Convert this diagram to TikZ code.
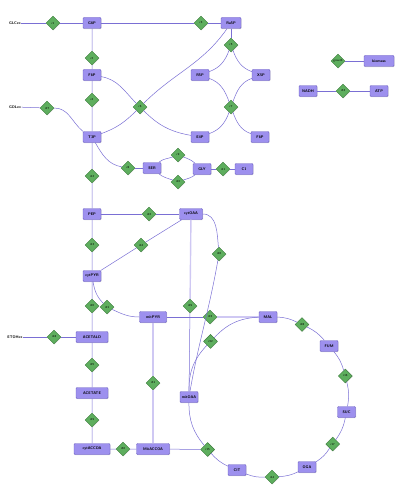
\documentclass[tikz,border=0pt]{standalone}
\usetikzlibrary{shapes.geometric,shadows}
\definecolor{boxfill}{HTML}{9D90EE}
\definecolor{boxdraw}{HTML}{6B5FC2}
\definecolor{dfill}{HTML}{5EAE5E}
\definecolor{ddraw}{HTML}{3D7D3D}
\definecolor{edge}{HTML}{7A6FD4}
\definecolor{edgelight}{HTML}{CFC8F3}
\begin{document}
\begin{tikzpicture}[x=1pt,y=1pt,
 met/.style={draw=boxdraw, fill=boxfill, rounded corners=1pt, minimum width=18pt, minimum height=11pt, inner sep=0pt, font=\fontsize{3.8}{4}\selectfont\sffamily\bfseries, line width=0.4pt, drop shadow={shadow xshift=0.5pt, shadow yshift=-0.6pt, fill=black!30}},
 rxn/.style={diamond, aspect=1, draw=ddraw, fill=dfill, minimum width=14pt, minimum height=14pt, inner sep=0pt, font=\fontsize{3}{3.5}\selectfont\sffamily, line width=0.4pt, drop shadow={shadow xshift=0.4pt, shadow yshift=-0.5pt, fill=black!25}},
 ext/.style={font=\fontsize{3.8}{4}\selectfont\sffamily\bfseries, inner sep=0.5pt},
 ln/.style={draw=edge, line width=0.5pt},
 lt/.style={draw=edgelight, line width=1.4pt}]
\useasboundingbox (0,0) rectangle (400,-495);
% external
\node[ext] (GLCex) at (15,-23) {GLCex};
\node[ext] (GOLex) at (15,-107) {GOLex};
\node[ext] (ETOHex) at (15,-337) {ETOHex};
% metabolites
\node[met] (G6P) at (92,-23) {G6P};
\node[met, minimum width=20pt] (Ru5P) at (231,-23) {Ru5P};
\node[met] (F6P) at (92,-75) {F6P};
\node[met] (R5P) at (200,-75) {R5P};
\node[met] (X5P) at (261,-75) {X5P};
\node[met] (T3P) at (92,-137) {T3P};
\node[met] (E4P) at (200,-137) {E4P};
\node[met] (F6Pb) at (260,-137) {F6P};
\node[met] (SER) at (152,-168) {SER};
\node[met] (GLY) at (202,-169) {GLY};
\node[met] (C1) at (244,-169) {C1};
\node[met] (PEP) at (92,-214) {PEP};
\node[met, minimum width=23pt] (cytOAA) at (191,-214) {cytOAA};
\node[met] (cytPYR) at (92,-276) {cytPYR};
\node[met, minimum width=27pt] (mitPYR) at (153,-317) {mitPYR};
\node[met, minimum width=32pt] (ACETALD) at (92,-337) {ACETALD};
\node[met, minimum width=32pt] (ACETATE) at (92,-393) {ACETATE};
\node[met, minimum width=36pt] (cytACCOA) at (92,-449) {cytACCOA};
\node[met, minimum width=33pt] (MitACCOA) at (153,-449) {MitACCOA};
\node[met] (mitOAA) at (189,-397) {mitOAA};
\node[met] (MAL) at (268,-317) {MAL};
\node[met] (FUM) at (329,-346) {FUM};
\node[met] (SUC) at (346.5,-412) {SUC};
\node[met] (OGA) at (307,-467) {OGA};
\node[met] (CIT) at (237,-470) {CIT};
\node[met, minimum width=30pt] (biomass) at (379,-61) {biomass};
\node[met] (NADH) at (308,-91) {NADH};
\node[met] (ATP) at (379,-91) {ATP};
% reactions
\node[rxn] (r1) at (53,-23) {r1};
\node[rxn] (r3) at (201,-23) {r3};
\node[rxn] (r2) at (92,-58) {r2};
\node[rxn] (r4) at (92,-100) {r4};
\node[rxn] (r6) at (140,-107) {r6};
\node[rxn] (r27) at (47,-108) {r27};
\node[rxn] (r5) at (231,-45) {r5};
\node[rxn] (r7) at (231,-107) {r7};
\node[rxn] (r8) at (128,-168) {r8};
\node[rxn] (r9) at (178,-155) {r9};
\node[rxn] (r10) at (178,-182) {r10};
\node[rxn] (r11) at (223,-169) {r11};
\node[rxn] (r12) at (92,-176) {r12};
\node[rxn] (r22) at (149,-214) {r22};
\node[rxn] (r13) at (92,-245) {r13};
\node[rxn] (r24) at (141,-245) {r24};
\node[rxn] (r26) at (219,-254) {r26};
\node[rxn] (r29) at (190,-306) {r29};
\node[rxn] (r20) at (92,-306) {r20};
\node[rxn] (r21) at (107,-307) {r21};
\node[rxn] (r23) at (210,-317) {r23};
\node[rxn] (r18) at (54,-337) {r18};
\node[rxn] (r25) at (92,-365) {r25};
\node[rxn] (r31) at (153,-383) {r31};
\node[rxn] (r19) at (92,-420) {r19};
\node[rxn] (r30) at (123,-449) {r30};
\node[rxn] (r15) at (207.6,-449.5) {r15};
\node[rxn] (r14) at (272,-477) {r14};
\node[rxn] (r17) at (332.7,-444) {r17};
\node[rxn] (r16) at (345.3,-376) {r16};
\node[rxn] (r28) at (302,-324.5) {r28};
\node[rxn] (r32) at (210.5,-341.4) {r32};
\node[rxn] (growth) at (338,-61) {growth};
\node[rxn] (r33) at (343,-91) {r33};
% straight connectors
\draw[ln] (GLCex) -- (r1) -- (G6P) -- (r3) -- (Ru5P);
\draw[ln] (G6P) -- (r2) -- (F6P) -- (r4) -- (T3P) -- (r12) -- (PEP) -- (r13) -- (cytPYR) -- (r20) -- (ACETALD) -- (r25) -- (ACETATE) -- (r19) -- (cytACCOA) -- (r30) -- (MitACCOA) -- (r15);
\draw[ln] (Ru5P) -- (r5);
\draw[ln] (GOLex) -- (r27);
\draw[ln] (r8) -- (SER);
\draw[ln] (GLY) -- (r11) -- (C1);
\draw[ln] (PEP) -- (r22) -- (cytOAA);
\draw[ln] (cytPYR) -- (r24) -- (cytOAA);
\draw[ln] (ETOHex) -- (r18) -- (ACETALD);
\draw[lt] (cytOAA) -- (r29);
\draw[ln] (r29) -- (mitOAA);
\draw[ln] (mitPYR) -- (r23);
\draw[lt] (r23) -- (MAL);
\draw[lt] (mitPYR) -- (r31) -- (MitACCOA);
\draw[ln] (growth) -- (biomass);
\draw[ln] (NADH) -- (r33) -- (ATP);
% curved connectors
\draw[ln] (F6P) to[out=-10,in=135] (r6);
\draw[ln] (r6) to[out=45,in=-125] (Ru5P);
\draw[ln] (r6) to[out=-135,in=20] (T3P);
\draw[ln] (r6) to[out=-45,in=170] (E4P);
\draw[ln] (r5) to[out=-110,in=20] (R5P);
\draw[ln] (r5) to[out=-70,in=160] (X5P);
\draw[ln] (R5P) to[out=-20,in=110] (r7);
\draw[ln] (X5P) to[out=-160,in=70] (r7);
\draw[ln] (r7) to[out=-110,in=20] (E4P);
\draw[ln] (r7) to[out=-70,in=160] (F6Pb);
\draw[ln] (r27) to[out=0,in=140] (T3P.north west);
\draw[ln] (T3P) to[out=-60,in=170] (r8);
\draw[ln] (SER) to[out=40,in=-160] (r9);
\draw[ln] (r9) to[out=-20,in=140] (GLY);
\draw[ln] (SER) to[out=-40,in=160] (r10);
\draw[ln] (r10) to[out=20,in=-140] (GLY);
\draw[ln] (cytOAA) to[out=0,in=95] (r26);
\draw[ln] (r26) to[out=-100,in=80] (mitOAA);
\draw[ln] (cytPYR) to[out=-80,in=135] (r21);
\draw[ln] (r21) to[out=-25,in=180] (mitPYR);
% TCA cycle
\draw[ln] (MAL) to[bend left=12] (r28);
\draw[ln] (r28) to[bend left=12] (FUM);
\draw[ln] (FUM) to[bend left=12] (r16);
\draw[ln] (r16) to[bend left=12] (SUC);
\draw[ln] (SUC) to[bend left=12] (r17);
\draw[ln] (r17) to[bend left=12] (OGA);
\draw[ln] (OGA) to[bend left=12] (r14);
\draw[ln] (r14) to[bend left=12] (CIT);
\draw[ln] (CIT) to[bend left=12] (r15);
\draw[ln] (r15) to[bend left=20] (mitOAA);
\draw[ln] (mitOAA) to[bend left=22] (r32);
\draw[ln] (r32) to[bend left=22] (MAL);
\end{tikzpicture}
\end{document}
